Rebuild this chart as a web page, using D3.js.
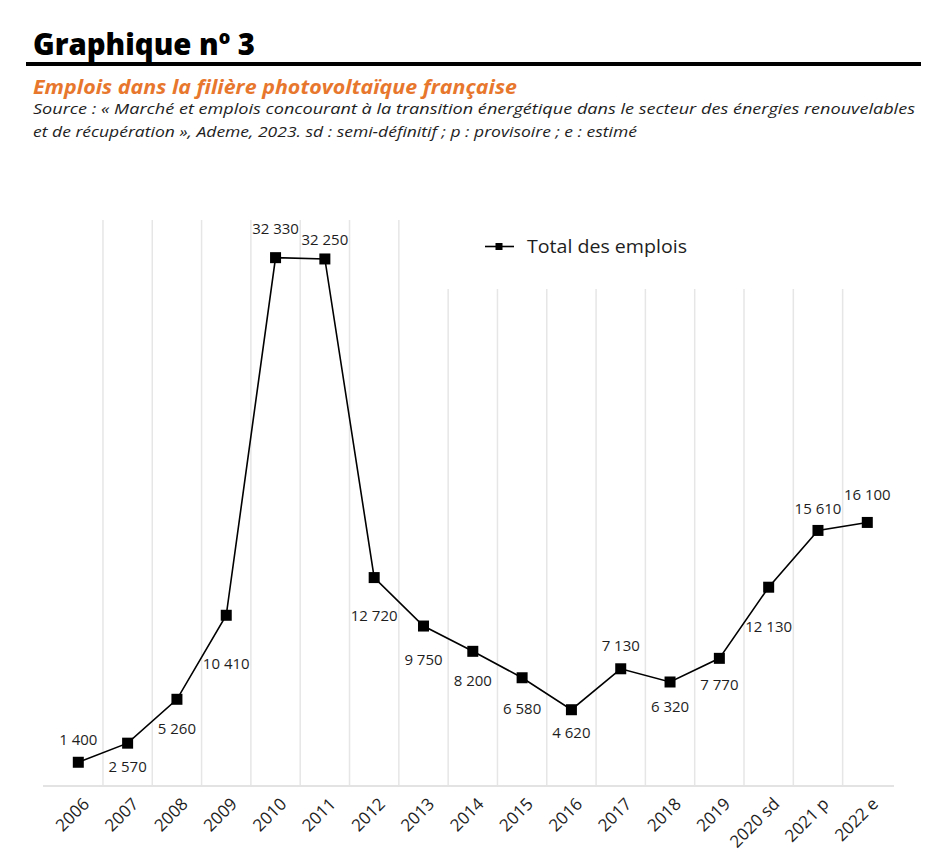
<!DOCTYPE html>
<html><head><meta charset="utf-8">
<script src="https://cdn.jsdelivr.net/npm/d3@7"></script>
<style>
html,body{margin:0;padding:0;background:#fff;}
svg{display:block;}
</style></head>
<body>
<svg id="chart" width="948" height="868"></svg>
<script>
// ---- data ----
const categories = ["2006","2007","2008","2009","2010","2011","2012","2013","2014","2015","2016","2017","2018","2019","2020 sd","2021 p","2022 e"];
const totalEmplois = [1400,2570,5260,10410,32330,32250,12720,9750,8200,6580,4620,7130,6320,7770,12130,15610,16100];
const seriesName = "Total des emplois";
// vertical offset of each value label from its marker (annotation placement)
const labelDy = [-17,29,35,54,-24,-14,43,39,35,36,28,-18,30,32,45,-16,-22];

const titleText = "Graphique nº 3";
const subtitleText = "Emplois dans la filière photovoltaïque française";
const sourceLines = [
  "Source : « Marché et emplois concourant à la transition énergétique dans le secteur des énergies renouvelables",
  "et de récupération », Ademe, 2023. sd : semi-définitif ; p : provisoire ; e : estimé"
];

const svg = d3.select("#chart");
const FONT = "'Open Sans','Noto Sans',sans-serif";
const TXT = "#1e1e1e";

// ---- header ----
svg.append("text").attr("x",33).attr("y",55)
  .attr("font-family",FONT).attr("font-weight",800).attr("font-size",30)
  .attr("fill","#000").attr("textLength",222).attr("lengthAdjust","spacingAndGlyphs")
  .text(titleText);
svg.append("rect").attr("x",26).attr("y",62).attr("width",895).attr("height",4).attr("fill","#000");
svg.append("text").attr("x",33).attr("y",94)
  .attr("font-family",FONT).attr("font-weight",700).attr("font-style","italic").attr("font-size",19)
  .attr("fill","#e8772e").attr("textLength",484).attr("lengthAdjust","spacingAndGlyphs")
  .text(subtitleText);
const srcWidths = [882, 604];
sourceLines.forEach((t,i)=>{
  svg.append("text").attr("x",33).attr("y",114+i*23)
    .attr("font-family",FONT).attr("font-style","italic").attr("font-size",15)
    .attr("fill",TXT).attr("textLength",srcWidths[i]).attr("lengthAdjust","spacingAndGlyphs")
    .text(t);
});

// ---- scales ----
const x = d3.scaleBand().domain(categories).range([53.65, 891.95]).paddingInner(0).paddingOuter(0);
const y = d3.scaleLinear().domain([0,35000]).range([785.1, 214.1]);
const cx = c => x(c) + x.bandwidth()/2;

// ---- gridlines (band boundaries) ----
const g = svg.append("g");
g.selectAll("line.grid").data(categories.slice(1)).join("line")
  .attr("class","grid")
  .attr("x1",d=>x(d)).attr("x2",d=>x(d))
  .attr("y1",220).attr("y2",787)
  .attr("stroke","#e6e6e6").attr("stroke-width",1.5);

// legend box masks gridline tops
svg.append("rect").attr("x",405).attr("y",205).attr("width",500).attr("height",84).attr("fill","#fff");

// ---- x axis ----
const xAxis = d3.axisBottom(x).tickSize(0).tickPadding(0);
const ax = svg.append("g").attr("transform","translate(0,786)").call(xAxis);
ax.select(".domain").remove();
svg.append("line").attr("x1",43).attr("x2",894).attr("y1",786).attr("y2",786)
  .attr("stroke","#e3e3e3").attr("stroke-width",2);
ax.selectAll(".tick text")
  .attr("font-family",FONT).attr("font-size",17).attr("fill",TXT)
  .attr("text-anchor","end").attr("dy",null).attr("y",null)
  .attr("transform","translate(12,19) rotate(-45)");

// ---- line + markers ----
const line = d3.line().x((d,i)=>cx(categories[i])).y(d=>y(d));
svg.append("path").datum(totalEmplois).attr("d",line)
  .attr("fill","none").attr("stroke","#000").attr("stroke-width",1.6);
svg.selectAll("rect.mk").data(totalEmplois).join("rect")
  .attr("class","mk")
  .attr("x",(d,i)=>cx(categories[i])-5.5).attr("y",d=>y(d)-5.5)
  .attr("width",11).attr("height",11).attr("fill","#000");

// ---- value labels ----
const fmt = v => d3.format(",")(v).replace(/,/g,"\u00A0");
svg.selectAll("text.vl").data(totalEmplois).join("text")
  .attr("class","vl")
  .attr("x",(d,i)=>cx(categories[i])).attr("y",(d,i)=>y(d)+labelDy[i])
  .attr("text-anchor","middle")
  .attr("font-family",FONT).attr("font-size",15).attr("fill",TXT)
  .text(fmt);

// ---- legend ----
const lg = svg.append("g");
lg.append("line").attr("x1",485).attr("x2",514).attr("y1",246.5).attr("y2",246.5)
  .attr("stroke","#000").attr("stroke-width",1.6);
lg.append("rect").attr("x",495.5).attr("y",243).attr("width",7).attr("height",7).attr("fill","#000");
lg.append("text").attr("x",527).attr("y",253)
  .attr("font-family",FONT).attr("font-size",19).attr("fill",TXT)
  .attr("textLength",160).attr("lengthAdjust","spacingAndGlyphs")
  .text(seriesName);
</script>
</body></html>
